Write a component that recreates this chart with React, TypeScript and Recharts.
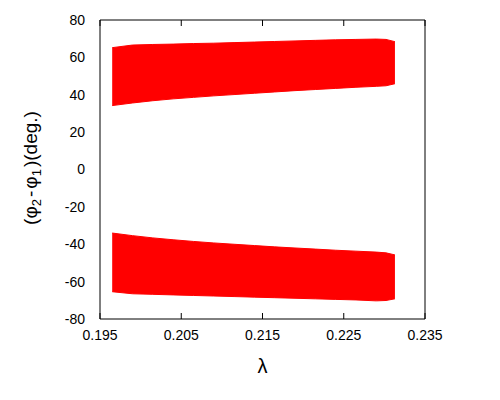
import React from "react";
import { ComposedChart, Area, XAxis, YAxis } from "recharts";

const lambdas = [0.1965, 0.199, 0.2015, 0.204, 0.2065, 0.209, 0.2115, 0.214, 0.2165, 0.219, 0.2215, 0.224, 0.2265, 0.229, 0.2302, 0.2313];
const upperHi = [65.2, 66.6, 66.9, 67.1, 67.4, 67.6, 67.9, 68.2, 68.5, 68.8, 69.1, 69.4, 69.6, 69.8, 69.6, 68.4];
const upperLo = [34.2, 35.6, 36.8, 37.8, 38.6, 39.4, 40.1, 40.8, 41.5, 42.2, 42.8, 43.4, 44.0, 44.5, 44.8, 45.9];
const lowerHi = [-34.0, -35.4, -36.6, -37.6, -38.5, -39.3, -40.0, -40.7, -41.4, -42.0, -42.6, -43.2, -43.7, -44.2, -44.6, -45.7];
const lowerLo = [-65.4, -66.5, -66.8, -67.1, -67.4, -67.7, -68.0, -68.3, -68.6, -68.9, -69.2, -69.5, -69.8, -70.3, -70.1, -69.2];

const xTicks = [0.195, 0.205, 0.215, 0.225, 0.235];
const yTicks = [-80, -60, -40, -20, 0, 20, 40, 60, 80];

const data = lambdas.map((l, i) => ({
  l,
  upper: [upperLo[i], upperHi[i]],
  lower: [lowerLo[i], lowerHi[i]],
}));

const font = "'Liberation Sans', Arial, sans-serif";
const tickStyle = { fontSize: 14, fill: "#000", fontFamily: font };
const noLabel = () => <g />;

const XLabel = (props: any) => {
  const vb = props.viewBox;
  return (
    <text x={vb.x + vb.width / 2} y={vb.y + 54} textAnchor="middle" fontSize={20} fontFamily={font} fill="#000">
      λ
    </text>
  );
};

const YLabel = () => {
  const cx = 37;
  const cy = 168;
  return (
    <text
      x={cx}
      y={cy}
      textAnchor="middle"
      fontSize={19}
      fontFamily={font}
      fill="#000"
      transform={`rotate(-90, ${cx}, ${cy})`}
    >
      (φ<tspan fontSize={13} dy={4}>2</tspan>
      <tspan dy={-4} dx={2}>-</tspan>
      <tspan dx={2}>φ</tspan>
      <tspan fontSize={13} dy={4}>1</tspan>
      <tspan dy={-4} dx={2}>)(deg.)</tspan>
    </text>
  );
};

export default function App() {
  return (
    <div style={{ position: "absolute", left: 0, top: 0, background: "#fff" }}>
      <ComposedChart width={500} height={400} data={data} margin={{ top: 20, right: 75, bottom: 0, left: 0 }}>
        <XAxis
          xAxisId="x"
          dataKey="l"
          type="number"
          domain={[0.195, 0.235]}
          ticks={xTicks}
          tickFormatter={(v: number) => v.toFixed(3)}
          height={81}
          tickSize={0}
          tickMargin={11}
          tickLine={false}
          axisLine={{ stroke: "#000" }}
          tick={tickStyle}
          label={{ content: XLabel }}
        />
        <XAxis
          xAxisId="xin"
          dataKey="l"
          type="number"
          domain={[0.195, 0.235]}
          ticks={xTicks}
          mirror
          tick={noLabel}
          tickSize={6}
          tickLine={{ stroke: "#000" }}
          axisLine={false}
        />
        <XAxis
          xAxisId="top"
          orientation="top"
          dataKey="l"
          type="number"
          domain={[0.195, 0.235]}
          ticks={xTicks}
          mirror
          tick={noLabel}
          tickSize={6}
          tickLine={{ stroke: "#000" }}
          axisLine={{ stroke: "#000" }}
        />
        <YAxis
          yAxisId="y"
          type="number"
          domain={[-80, 80]}
          ticks={yTicks}
          width={100}
          tickSize={0}
          tickMargin={15}
          tickLine={false}
          axisLine={{ stroke: "#000" }}
          tick={tickStyle}
          label={{ content: YLabel }}
        />
        <YAxis
          yAxisId="yin"
          type="number"
          domain={[-80, 80]}
          ticks={yTicks}
          mirror
          tick={noLabel}
          tickSize={6}
          tickLine={{ stroke: "#000" }}
          axisLine={false}
        />
        <YAxis
          yAxisId="right"
          orientation="right"
          type="number"
          domain={[-80, 80]}
          ticks={yTicks}
          mirror
          tick={noLabel}
          tickSize={6}
          tickLine={{ stroke: "#000" }}
          axisLine={{ stroke: "#000" }}
        />
        <Area
          xAxisId="x"
          yAxisId="y"
          dataKey="upper"
          type="linear"
          fill="#ff0000"
          fillOpacity={1}
          stroke="#ff0000"
          isAnimationActive={false}
        />
        <Area
          xAxisId="x"
          yAxisId="y"
          dataKey="lower"
          type="linear"
          fill="#ff0000"
          fillOpacity={1}
          stroke="#ff0000"
          isAnimationActive={false}
        />
      </ComposedChart>
    </div>
  );
}
